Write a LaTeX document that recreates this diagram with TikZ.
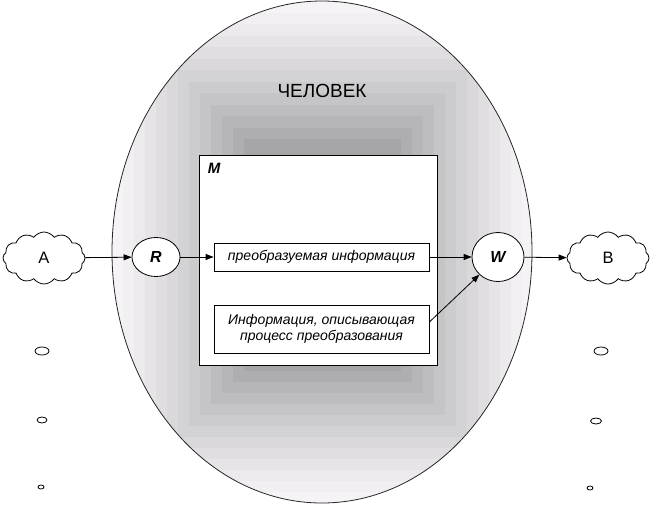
\documentclass[tikz,border=0pt]{standalone}
\usepackage{fontspec}
\setmainfont{Liberation Sans}
\usetikzlibrary{calc,arrows.meta,shapes.symbols,shapes.geometric}
\definecolor{shadeLight}{RGB}{246,243,246}
\definecolor{shadeDark}{RGB}{166,166,168}

\begin{document}
\begin{tikzpicture}[x=1pt,y=-1pt,
  flow/.style={-{Triangle[length=8pt,width=6pt]},line width=0.8pt},
  cloudbox/.style={cloud,cloud puffs=12,cloud puff arc=110,aspect=1.6,draw,line width=0.8pt,minimum width=82pt,minimum height=52pt,inner sep=0pt,font=\fontsize{16.5}{17}\selectfont},
  agent/.style={ellipse,draw,fill=white,line width=0.8pt,inner sep=0pt,font=\bfseries\itshape\fontsize{16}{17}\selectfont},
  infobox/.style={draw,fill=white,line width=0.8pt,minimum width=215pt,align=center,inner sep=0pt,font=\itshape\fontsize{14}{16}\selectfont},
  bubble/.style={draw,line width=0.8pt}]
\path[use as bounding box] (0,0) rectangle (650,504);

% shaded person
\begin{scope}
\clip (322,252) ellipse [x radius=210,y radius=251];
\foreach \i in {0,...,12}{
  \pgfmathsetmacro{\mix}{100*(1-(\i/12)^1.2)}
  \fill[shadeLight!\mix!shadeDark] (112+\i*11,1+\i*11.5) rectangle (533-\i*11,503-\i*11);
}
\end{scope}
\draw[line width=0.8pt,black!85] (322,252) ellipse [x radius=210,y radius=251];
\node[font=\fontsize{19}{20}\selectfont] (human) at (322,91) {ЧЕЛОВЕК};

% model
\node[draw,fill=white,line width=0.8pt,minimum width=238pt,minimum height=210pt,inner sep=0pt] (model) at (318,260) {};
\node[anchor=north west,inner sep=0pt,font=\bfseries\itshape\fontsize{15}{16}\selectfont] (mlabel) at ($(model.north west)+(9,8)$) {M};
\node[infobox,minimum height=28pt] (info) at (321.5,257) {преобразуемая информация};
\node[infobox,minimum height=48pt] (proc) at (321.5,329) {Информация, описывающая\\процесс преобразования};

% reader, writer, sources
\node[agent,minimum width=48pt,minimum height=39pt] (R) at (156,257) {R};
\node[agent,minimum width=52pt,minimum height=49pt] (W) at (498,257) {W};
\node[cloudbox] (srcA) at (44,258) {A\hspace{30pt}};
\node[cloudbox] (dstB) at (608,258) {B\hspace{30pt}};

\draw[flow] (srcA) -- (R);
\draw[flow] (R) -- (info);
\draw[flow] (info) -- (W);
\draw[flow] ($(proc.east)+(0,-7)$) -- (W);
\draw[flow] (W) -- (dstB);

% thought bubbles
\draw[bubble] (42,351) ellipse [x radius=7,y radius=4];
\draw[bubble] (42,420) ellipse [x radius=5,y radius=3];
\draw[bubble] (41,487) ellipse [x radius=3,y radius=2];
\draw[bubble] (601,351) ellipse [x radius=7,y radius=4];
\draw[bubble] (596,421) ellipse [x radius=5.5,y radius=3];
\draw[bubble] (590,488) ellipse [x radius=3,y radius=2];
\end{tikzpicture}
\end{document}
